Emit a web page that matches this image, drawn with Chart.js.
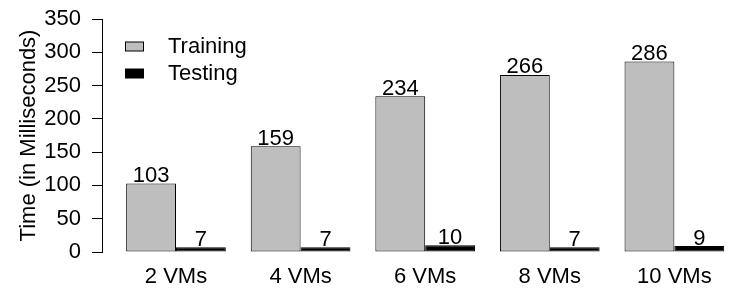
<!DOCTYPE html>
<html>
<head>
<meta charset="utf-8">
<script src="https://cdn.jsdelivr.net/npm/chart.js@4/dist/chart.umd.min.js"></script>
<style>
  html, body { margin: 0; padding: 0; background: #ffffff; }
  #wrap { width: 747px; height: 293px; position: relative; }
</style>
</head>
<body>
<div id="wrap"><canvas id="c"></canvas></div>
<script>
// ---- data ----
const categories = ["2 VMs", "4 VMs", "6 VMs", "8 VMs", "10 VMs"];
const training = [103, 159, 234, 266, 286];
const testing = [7, 7, 10, 7, 9];
const seriesNames = ["Training", "Testing"];
const yTicks = [0, 50, 100, 150, 200, 250, 300, 350];

const FONT = "'Liberation Sans', Arial, Helvetica, sans-serif";
const FS = 22;

const toPoints = arr => arr.map((v, i) => ({ x: i + 1, y: v }));

const valueLabels = {
  id: 'valueLabels',
  afterDatasetsDraw(chart) {
    const ctx = chart.ctx;
    ctx.save();
    ctx.font = FS + 'px ' + FONT;
    ctx.fillStyle = '#000';
    ctx.textAlign = 'center';
    ctx.textBaseline = 'alphabetic';
    chart.data.datasets.forEach((ds, di) => {
      const meta = chart.getDatasetMeta(di);
      meta.data.forEach((el, i) => {
        ctx.fillText(String(ds.data[i].y), el.x, el.y - 1.5);
      });
    });
    ctx.restore();
  }
};

const boxLegend = {
  id: 'boxLegend',
  afterDraw(chart) {
    const ctx = chart.ctx;
    const a = chart.chartArea;
    ctx.save();
    ctx.font = FS + 'px ' + FONT;
    ctx.textAlign = 'left';
    ctx.textBaseline = 'middle';
    chart.data.datasets.forEach((ds, di) => {
      const bx = a.left + 23.5, by = a.top + 23 + di * 27;
      ctx.fillStyle = ds.backgroundColor;
      ctx.fillRect(bx, by, 18, 9);
      ctx.strokeStyle = '#000';
      ctx.lineWidth = 1;
      ctx.strokeRect(bx, by, 18, 9);
      ctx.fillStyle = '#000';
      ctx.fillText(ds.label, a.left + 66, by + 5);
    });
    ctx.restore();
  }
};

new Chart(document.getElementById('c'), {
  type: 'bar',
  data: {
    datasets: [
      { label: seriesNames[0], data: toPoints(training), backgroundColor: '#bebebe', borderColor: '#000', borderWidth: 1, borderSkipped: false },
      { label: seriesNames[1], data: toPoints(testing), backgroundColor: '#000000', borderColor: '#000', borderWidth: 1, borderSkipped: false }
    ]
  },
  options: {
    responsive: true,
    maintainAspectRatio: false,
    animation: false,
    devicePixelRatio: 1,
    layout: { padding: { top: 19, right: 0, bottom: 0, left: 0 } },
    plugins: { legend: { display: false }, tooltip: { enabled: false } },
    datasets: { bar: { categoryPercentage: 0.8, barPercentage: 1.0 } },
    scales: {
      x: {
        type: 'linear',
        offset: false,
        min: 0.406,
        max: 5.583,
        afterBuildTicks(scale) { scale.ticks = categories.map((c, i) => ({ value: i + 1 })); },
        afterFit(scale) { scale.height = 41; scale.paddingLeft = 0; scale.paddingRight = 0; },
        grid: { display: false, drawTicks: false, offset: false },
        border: { display: false },
        ticks: {
          autoSkip: false,
          maxRotation: 0,
          minRotation: 0,
          padding: 12,
          color: '#000',
          font: { family: FONT, size: FS },
          callback: v => {
            const r = Math.round(v);
            return (r >= 1 && r <= categories.length) ? categories[r - 1] : '';
          }
        }
      },
      y: {
        min: yTicks[0],
        max: yTicks[yTicks.length - 1],
        afterFit(scale) { scale.width = 102; scale.paddingTop = 0; scale.paddingBottom = 0; },
        afterBuildTicks(scale) { scale.ticks = yTicks.map(v => ({ value: v })); },
        grid: { drawOnChartArea: false, drawTicks: true, tickLength: 10, color: '#000', lineWidth: 1 },
        border: { display: true, color: '#000', width: 1 },
        ticks: { padding: 11, color: '#000', font: { family: FONT, size: FS } },
        title: { display: true, text: 'Time (in Milliseconds)', color: '#000', font: { family: FONT, size: FS }, padding: { top: 16, bottom: 4 } }
      }
    }
  },
  plugins: [valueLabels, boxLegend]
});
</script>
</body>
</html>
